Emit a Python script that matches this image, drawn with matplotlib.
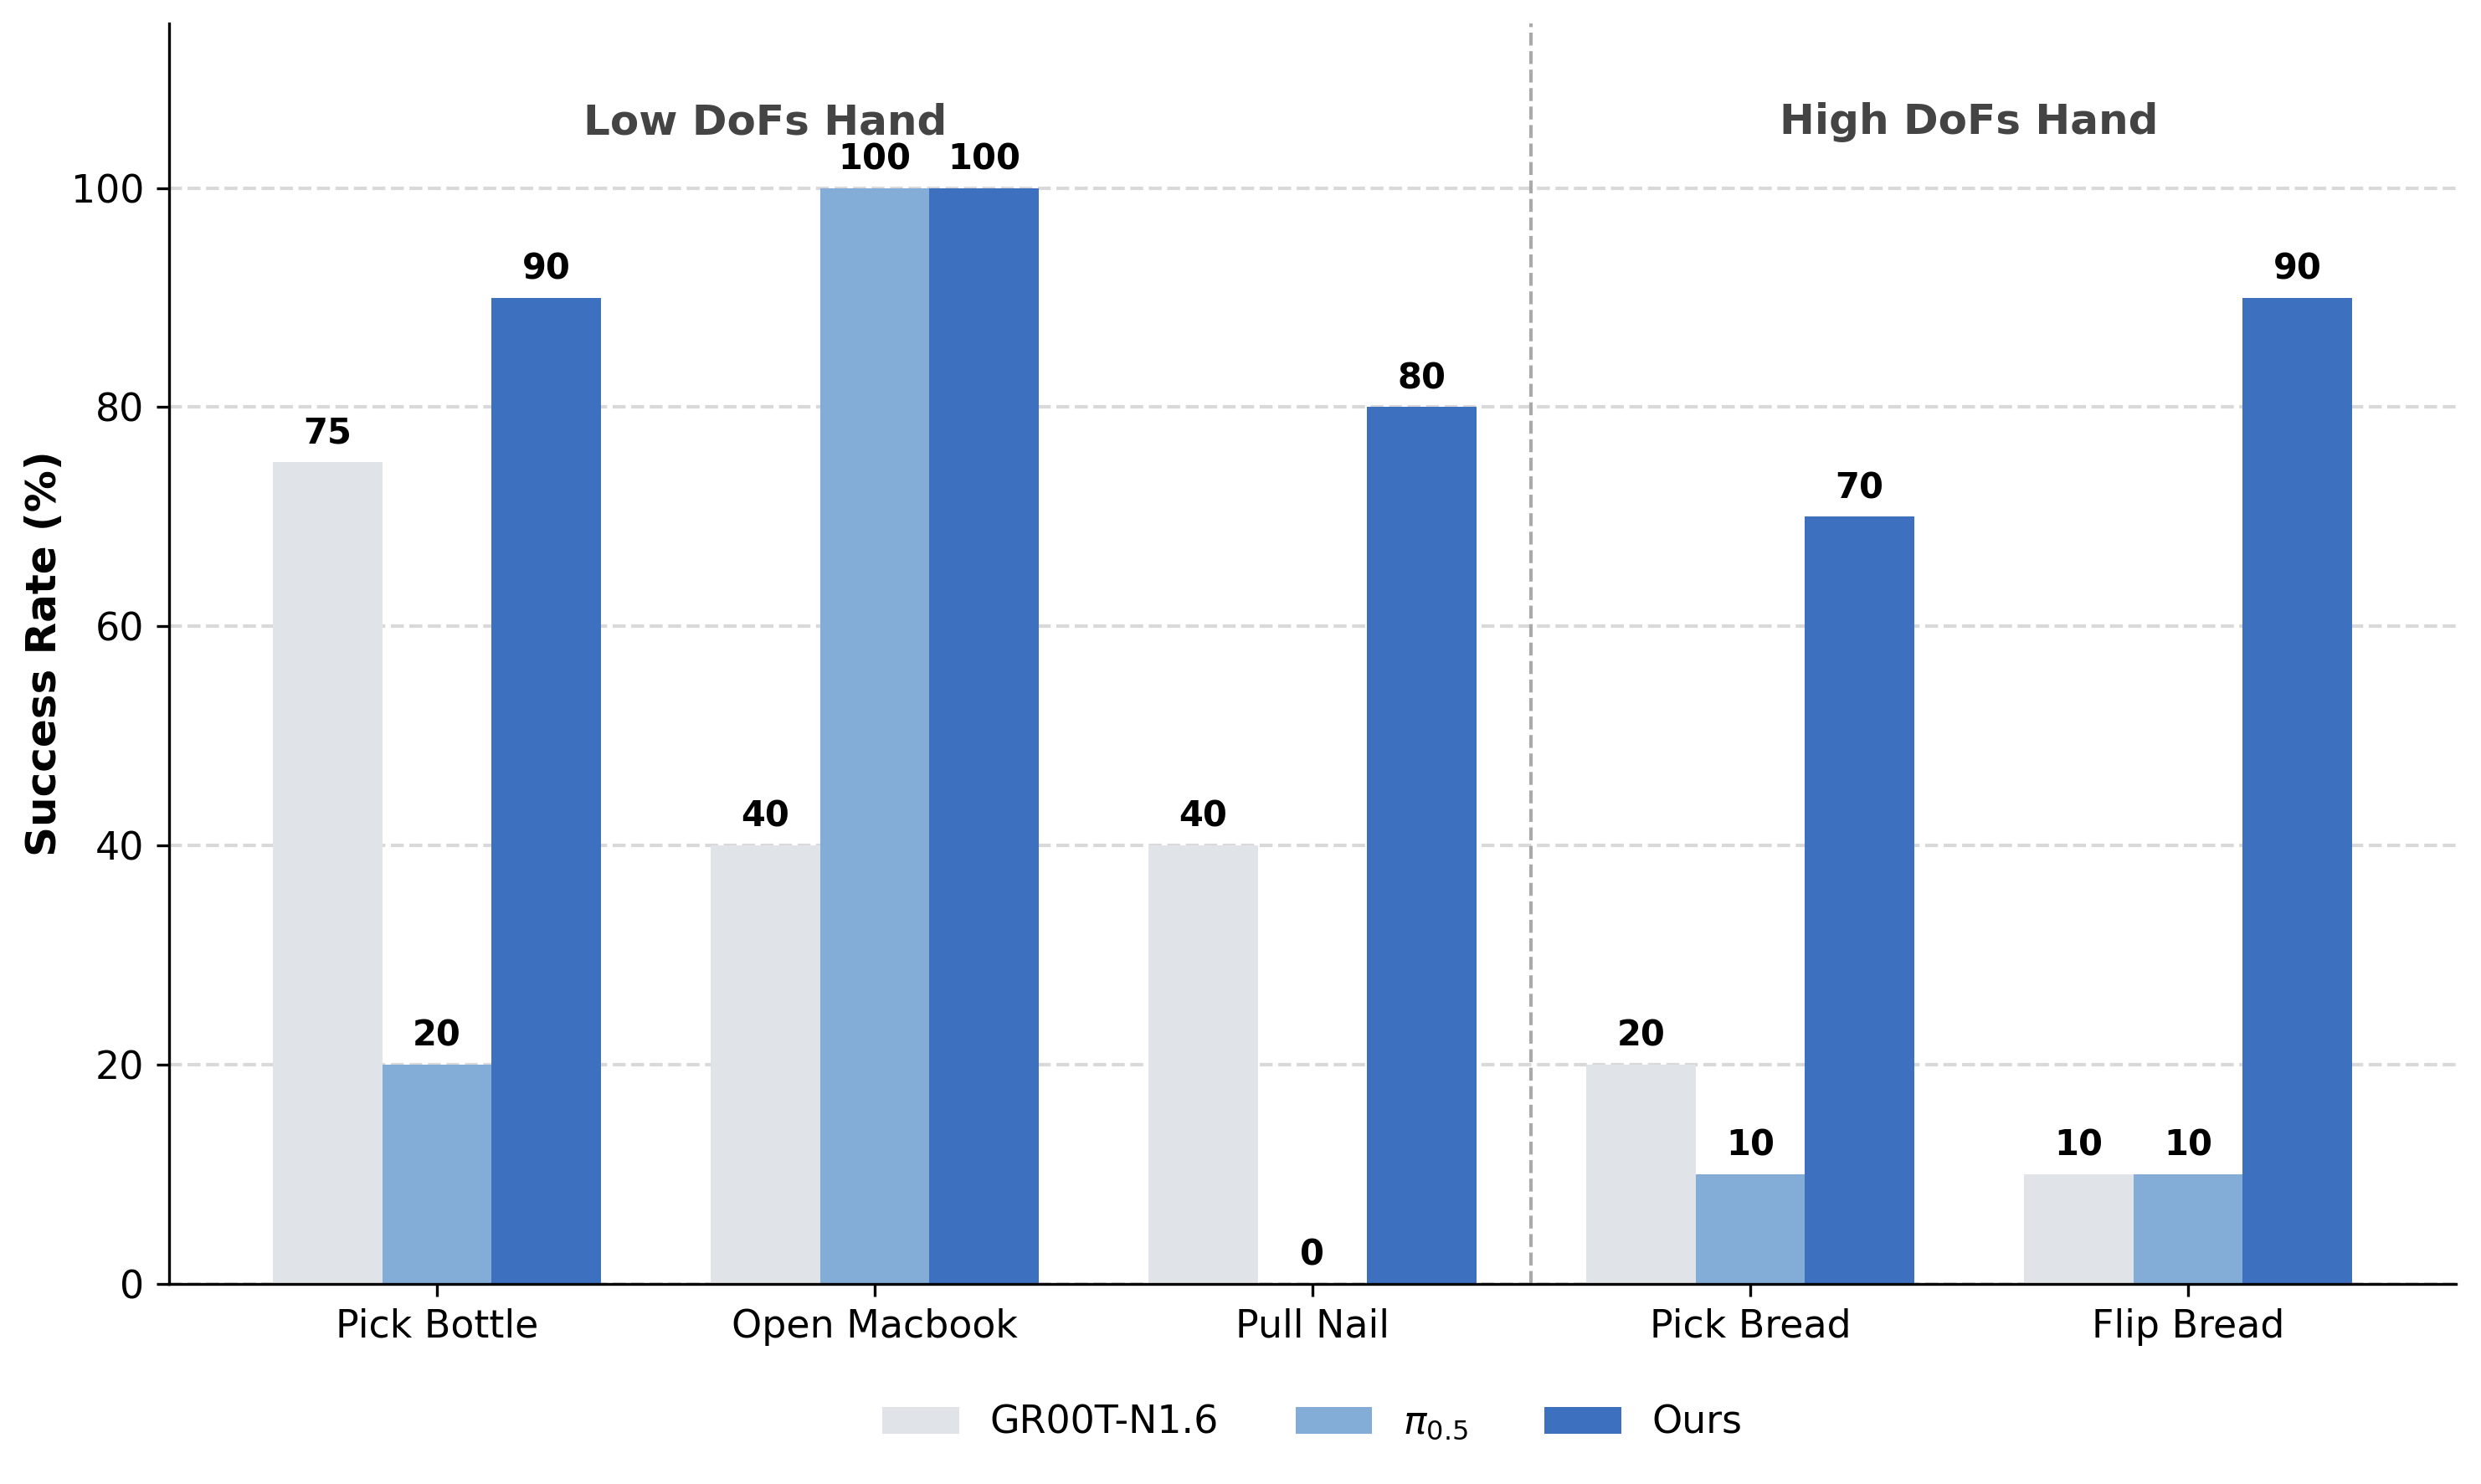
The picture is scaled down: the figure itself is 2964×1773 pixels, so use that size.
import numpy as np
import matplotlib
matplotlib.use('Agg')
import matplotlib.pyplot as plt

# Datos
tasks = ['Pick Bottle', 'Open Macbook', 'Pull Nail', 'Pick Bread', 'Flip Bread']
groot = [75, 40, 40, 20, 10]
pi05 = [20, 100, 0, 10, 10]
ours = [90, 100, 80, 70, 90]

series = [
    ('GR00T-N1.6', groot, '#E0E3E8'),
    (r'$\pi_{0.5}$', pi05, '#83ADD7'),
    ('Ours', ours, '#3D71BF'),
]

fig = plt.figure(figsize=(9.88, 5.91), dpi=300)
ax = fig.add_axes([0.068, 0.135, 0.922, 0.849])

x = np.arange(len(tasks))
width = 0.25

for i, (name, vals, color) in enumerate(series):
    pos = x + (i - 1) * width
    ax.bar(pos, vals, width, color=color, label=name, zorder=2)
    for px, v in zip(pos, vals):
        ax.text(px, v + 1, f'{v}', ha='center', va='bottom',
                fontsize=10, fontweight='bold', color='black')

# Separador entre grupos de manos
ax.axvline(2.5, color='#AAAAAA', linestyle='--', linewidth=1, zorder=1)
ax.text(0.75, 106, 'Low DoFs Hand', ha='center', va='center',
        fontsize=12, fontweight='bold', color='#444444')
ax.text(3.5, 106, 'High DoFs Hand', ha='center', va='center',
        fontsize=12, fontweight='bold', color='#444444')

ax.set_ylim(0, 115)
ax.set_xlim(-0.6125, 4.6125)
ax.set_yticks([0, 20, 40, 60, 80, 100])
ax.set_xticks(x)
ax.set_xticklabels(tasks, fontsize=11)
ax.tick_params(axis='y', labelsize=11)
ax.set_ylabel('Success Rate (%)', fontsize=12, fontweight='bold', labelpad=2)
ax.yaxis.grid(True, linestyle='--', color='#D9D9D9', linewidth=1, zorder=0)
ax.set_axisbelow(True)
ax.spines['top'].set_visible(False)
ax.spines['right'].set_visible(False)

ax.legend(loc='center', bbox_to_anchor=(0.529, 0.041),
          bbox_transform=fig.transFigure, ncol=3,
          frameon=False, fontsize=11)

fig.savefig('out.png', dpi=300)
